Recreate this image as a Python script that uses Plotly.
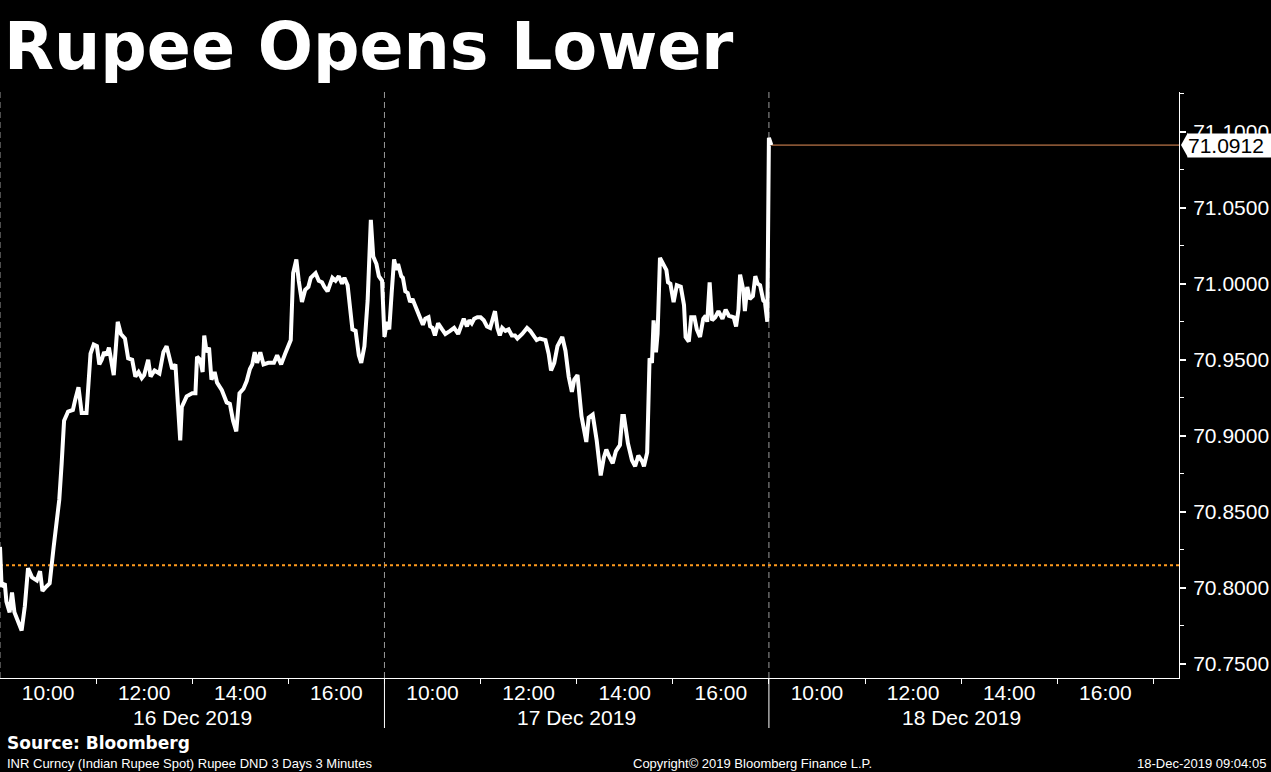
import plotly.graph_objects as go

# ---------------- data ----------------
# minutes since 09:00 session open, INR per USD
day1_minutes = [0, 2, 6, 8, 12, 15, 18, 23, 27, 31, 35, 40, 46, 50, 53, 58, 62, 67, 71, 74,
                77, 80, 85, 91, 94, 98, 102, 108, 113, 117, 121, 124, 127, 130, 133, 136, 142, 147, 151, 156,
                160, 165, 169, 173, 177, 180, 185, 188, 193, 199, 204, 208, 215, 219, 225, 227, 233, 240, 244, 246,
                250, 253, 255, 258, 261, 264, 268, 271, 277, 283, 287, 291, 295, 299, 304, 308, 312, 315, 318, 321,
                325, 329, 335, 342, 346, 351, 356, 363, 366, 370, 373, 377, 381, 385, 388, 394, 398, 402, 405, 409,
                415, 419, 423, 427, 430, 434, 440, 444, 448, 451, 455, 459, 463, 466, 470, 473, 477, 478, 480]
day1_rate = [70.827, 70.801, 70.803, 70.791, 70.784, 70.797, 70.784, 70.777, 70.772, 70.788,
             70.813, 70.807, 70.805, 70.811, 70.798, 70.801, 70.803, 70.827, 70.847, 70.858,
             70.882, 70.910, 70.916, 70.917, 70.924, 70.932, 70.915, 70.915, 70.954, 70.960,
             70.959, 70.947, 70.950, 70.955, 70.953, 70.958, 70.940, 70.975, 70.967, 70.964,
             70.951, 70.950, 70.939, 70.942, 70.938, 70.940, 70.950, 70.939, 70.943, 70.941,
             70.955, 70.959, 70.944, 70.947, 70.897, 70.919, 70.926, 70.928, 70.928, 70.952,
             70.950, 70.942, 70.966, 70.955, 70.958, 70.937, 70.942, 70.935, 70.930, 70.922,
             70.921, 70.910, 70.903, 70.928, 70.931, 70.936, 70.944, 70.947, 70.955, 70.948,
             70.955, 70.947, 70.948, 70.948, 70.953, 70.947, 70.954, 70.963, 71.007, 71.016,
             71.002, 70.988, 70.996, 70.998, 71.004, 71.007, 71.002, 71.001, 70.998, 70.995,
             71.004, 71.002, 71.005, 71.000, 71.004, 70.999, 70.970, 70.969, 70.953, 70.948,
             70.959, 70.989, 71.042, 71.018, 71.013, 71.005, 71.002, 70.989, 70.965]

day2_minutes = [3, 6, 9, 12, 15, 17, 21, 23, 26, 29, 32, 35, 38, 41, 44, 48, 51, 55, 57, 60,
                63, 67, 72, 76, 82, 87, 92, 97, 99, 103, 106, 109, 112, 116, 120, 124, 128, 132, 135, 138,
                141, 144, 147, 151, 155, 159, 163, 166, 172, 178, 182, 186, 190, 194, 201, 205, 208, 212, 216, 222,
                226, 230, 234, 237, 241, 246, 252, 255, 260, 265, 270, 274, 277, 281, 285, 289, 294, 297, 299, 304,
                309, 313, 317, 322, 324, 328, 331, 334, 336, 339, 341, 344, 349, 352, 354, 357, 361, 365, 370, 374,
                376, 380, 383, 387, 390, 394, 398, 401, 403, 406, 409, 413, 417, 422, 426, 430, 436, 439, 442, 444,
                448, 450, 453, 456, 460, 463, 466, 469, 473, 475, 478]
day2_rate = [70.975, 70.970, 70.994, 71.016, 71.009, 71.013, 71.005, 71.004, 70.995, 70.994,
             70.988, 70.990, 70.986, 70.982, 70.979, 70.973, 70.977, 70.978, 70.972, 70.971,
             70.966, 70.974, 70.970, 70.967, 70.969, 70.971, 70.967, 70.973, 70.977, 70.972,
             70.976, 70.974, 70.977, 70.978, 70.978, 70.976, 70.972, 70.971, 70.977, 70.982,
             70.971, 70.966, 70.971, 70.969, 70.970, 70.966, 70.966, 70.964, 70.967, 70.971,
             70.969, 70.966, 70.963, 70.964, 70.963, 70.954, 70.943, 70.948, 70.959, 70.965,
             70.956, 70.939, 70.929, 70.937, 70.940, 70.913, 70.896, 70.912, 70.914, 70.897,
             70.874, 70.886, 70.891, 70.886, 70.882, 70.890, 70.894, 70.913, 70.913, 70.895,
             70.884, 70.880, 70.887, 70.883, 70.880, 70.889, 70.951, 70.948, 70.976, 70.955,
             70.967, 71.017, 71.011, 71.009, 71.001, 71.000, 70.988, 70.999, 70.998, 70.986,
             70.965, 70.962, 70.978, 70.978, 70.970, 70.965, 70.977, 70.979, 70.975, 71.001,
             70.976, 70.978, 70.982, 70.977, 70.983, 70.979, 70.978, 70.972, 70.983, 71.006,
             70.996, 70.982, 70.998, 70.990, 70.992, 71.005, 71.000, 70.999, 70.989, 70.988,
             70.975]

day3_minutes = [0, 3]
day3_rate = [71.096, 71.0912]

prev_close = 70.815
last_price = 71.0912

day_labels = ["16 Dec 2019", "17 Dec 2019", "18 Dec 2019"]
hour_labels = ["10:00", "12:00", "14:00", "16:00"]
label_hours = [10, 12, 14, 16]
tick_hours = [11, 13, 15, 17]
open_hour = 9
session_minutes = 480

# ---------------- layout constants ----------------
W, H = 1271, 772
M_L, M_R, M_T, M_B = 0, 92, 92, 94
PLOT_W = W - M_L - M_R
PLOT_H = H - M_T - M_B
X_MAX = 1472
Y_MIN, Y_MAX = 70.7408, 71.1261

FONT = "Liberation Sans"
WHITE = "#ffffff"
ORANGE_DOT = "#ff9b1e"
ORANGE_LINE = "#e8925a"
GREY = "#9a9a9a"

days = [(day1_minutes, day1_rate), (day2_minutes, day2_rate), (day3_minutes, day3_rate)]
xs, ys = [], []
for i, (mins, vals) in enumerate(days):
    xs += [i * session_minutes + m for m in mins]
    ys += list(vals)

fig = go.Figure()
fig.add_trace(go.Scatter(x=xs, y=ys, mode="lines",
                         line=dict(color=WHITE, width=4, shape="linear"),
                         hoverinfo="skip", showlegend=False))

major_vals, major_text, minor_vals = [], [], []
for d in range(len(day_labels)):
    for h, t in zip(label_hours, hour_labels):
        major_vals.append(d * session_minutes + (h - open_hour) * 60)
        major_text.append(t)
    for h in tick_hours:
        minor_vals.append(d * session_minutes + (h - open_hour) * 60)

shapes = []
for d in range(len(day_labels)):
    xd = d * session_minutes
    shapes.append(dict(type="line", xref="x", yref="paper", x0=xd, x1=xd, y0=0, y1=1,
                       line=dict(color=GREY, width=1, dash="6px,4px"), layer="below"))
    if d > 0:
        shapes.append(dict(type="line", xref="x", yref="paper", x0=xd, x1=xd, y0=0, y1=-50 / PLOT_H,
                           line=dict(color=WHITE, width=1)))
shapes.append(dict(type="line", xref="paper", yref="y", x0=0, x1=1, y0=prev_close, y1=prev_close,
                   line=dict(color=ORANGE_DOT, width=2, dash="dot"), layer="below"))
shapes.append(dict(type="line", xref="x", yref="y", x0=xs[-1], x1=X_MAX, y0=last_price, y1=last_price,
                   line=dict(color=ORANGE_LINE, width=1), layer="below"))
shapes.append(dict(type="path", xref="paper", yref="y", xsizemode="pixel", ysizemode="pixel",
                   xanchor=1, yanchor=last_price,
                   path="M 2 0 L 9 12.5 L 9 -12.5 Z", fillcolor=WHITE, line=dict(width=0)))

annotations = []
for d, lab in enumerate(day_labels):
    annotations.append(dict(text=lab, xref="x", yref="paper", x=d * session_minutes + session_minutes / 2,
                            y=0, yanchor="middle", yshift=-39, showarrow=False,
                            font=dict(family=FONT, size=21, color=WHITE)))
annotations.append(dict(text=f"{last_price:.4f}", xref="paper", yref="y", x=1, y=last_price,
                        xanchor="left", yanchor="middle", xshift=8, showarrow=False,
                        bgcolor=WHITE, borderpad=0, font=dict(family=FONT, size=21, color="#000000"),
                        width=84, align="left"))
annotations.append(dict(text="<b>Source: Bloomberg</b>", xref="paper", yref="paper", x=5 / PLOT_W, y=0,
                        xanchor="left", yanchor="middle", yshift=-65, showarrow=False,
                        font=dict(family="DejaVu Sans", size=17, color=WHITE)))
annotations.append(dict(text="INR Curncy (Indian Rupee Spot) Rupee DND 3 Days 3 Minutes", xref="paper", yref="paper",
                        x=5 / PLOT_W, y=0, xanchor="left", yanchor="middle", yshift=-85, showarrow=False,
                        font=dict(family=FONT, size=13, color=WHITE)))
annotations.append(dict(text="Copyright\u00a9 2019 Bloomberg Finance L.P.", xref="paper", yref="paper",
                        x=752 / PLOT_W, y=0, xanchor="center", yanchor="middle", yshift=-85, showarrow=False,
                        font=dict(family=FONT, size=13, color=WHITE)))
annotations.append(dict(text="18-Dec-2019 09:04:05", xref="paper", yref="paper",
                        x=1268 / PLOT_W, y=0, xanchor="right", yanchor="middle", yshift=-85, showarrow=False,
                        font=dict(family=FONT, size=13, color=WHITE)))

fig.update_layout(
    width=W, height=H,
    margin=dict(l=M_L, r=M_R, t=M_T, b=M_B, pad=0),
    paper_bgcolor="#000000", plot_bgcolor="#000000",
    title=dict(text="<b>Rupee Opens Lower</b>", x=4 / W, xanchor="left", xref="container",
               y=1 - 46 / H, yanchor="middle", yref="container",
               font=dict(family="DejaVu Sans", size=65, color=WHITE)),
    showlegend=False,
    shapes=shapes,
    annotations=annotations,
    xaxis=dict(range=[0, X_MAX], showgrid=False, zeroline=False,
               showline=True, linecolor=WHITE, linewidth=1,
               tickmode="array", tickvals=major_vals, ticktext=major_text, ticks="",
               ticklabelstandoff=-4,
               tickfont=dict(family=FONT, size=21, color=WHITE),
               minor=dict(tickmode="array", tickvals=minor_vals, ticks="outside", ticklen=5,
                          tickcolor=WHITE, tickwidth=1, showgrid=False),
               fixedrange=True),
    yaxis=dict(range=[Y_MIN, Y_MAX], side="right", showgrid=False, zeroline=False,
               showline=True, linecolor=WHITE, linewidth=1, mirror=False,
               tick0=70.75, dtick=0.05, tickformat=".4f",
               ticks="outside", ticklen=6, tickwidth=2, tickcolor=WHITE,
               ticklabelstandoff=3,
               tickfont=dict(family=FONT, size=21, color=WHITE),
               minor=dict(dtick=0.025, tick0=70.75, ticks="outside", ticklen=4, tickcolor=WHITE,
                          tickwidth=1, showgrid=False),
               fixedrange=True),
)

fig.write_html("out.html", config={"displayModeBar": False, "staticPlot": True},
               post_script="document.body.style.margin='0';document.body.style.background='#000';")
